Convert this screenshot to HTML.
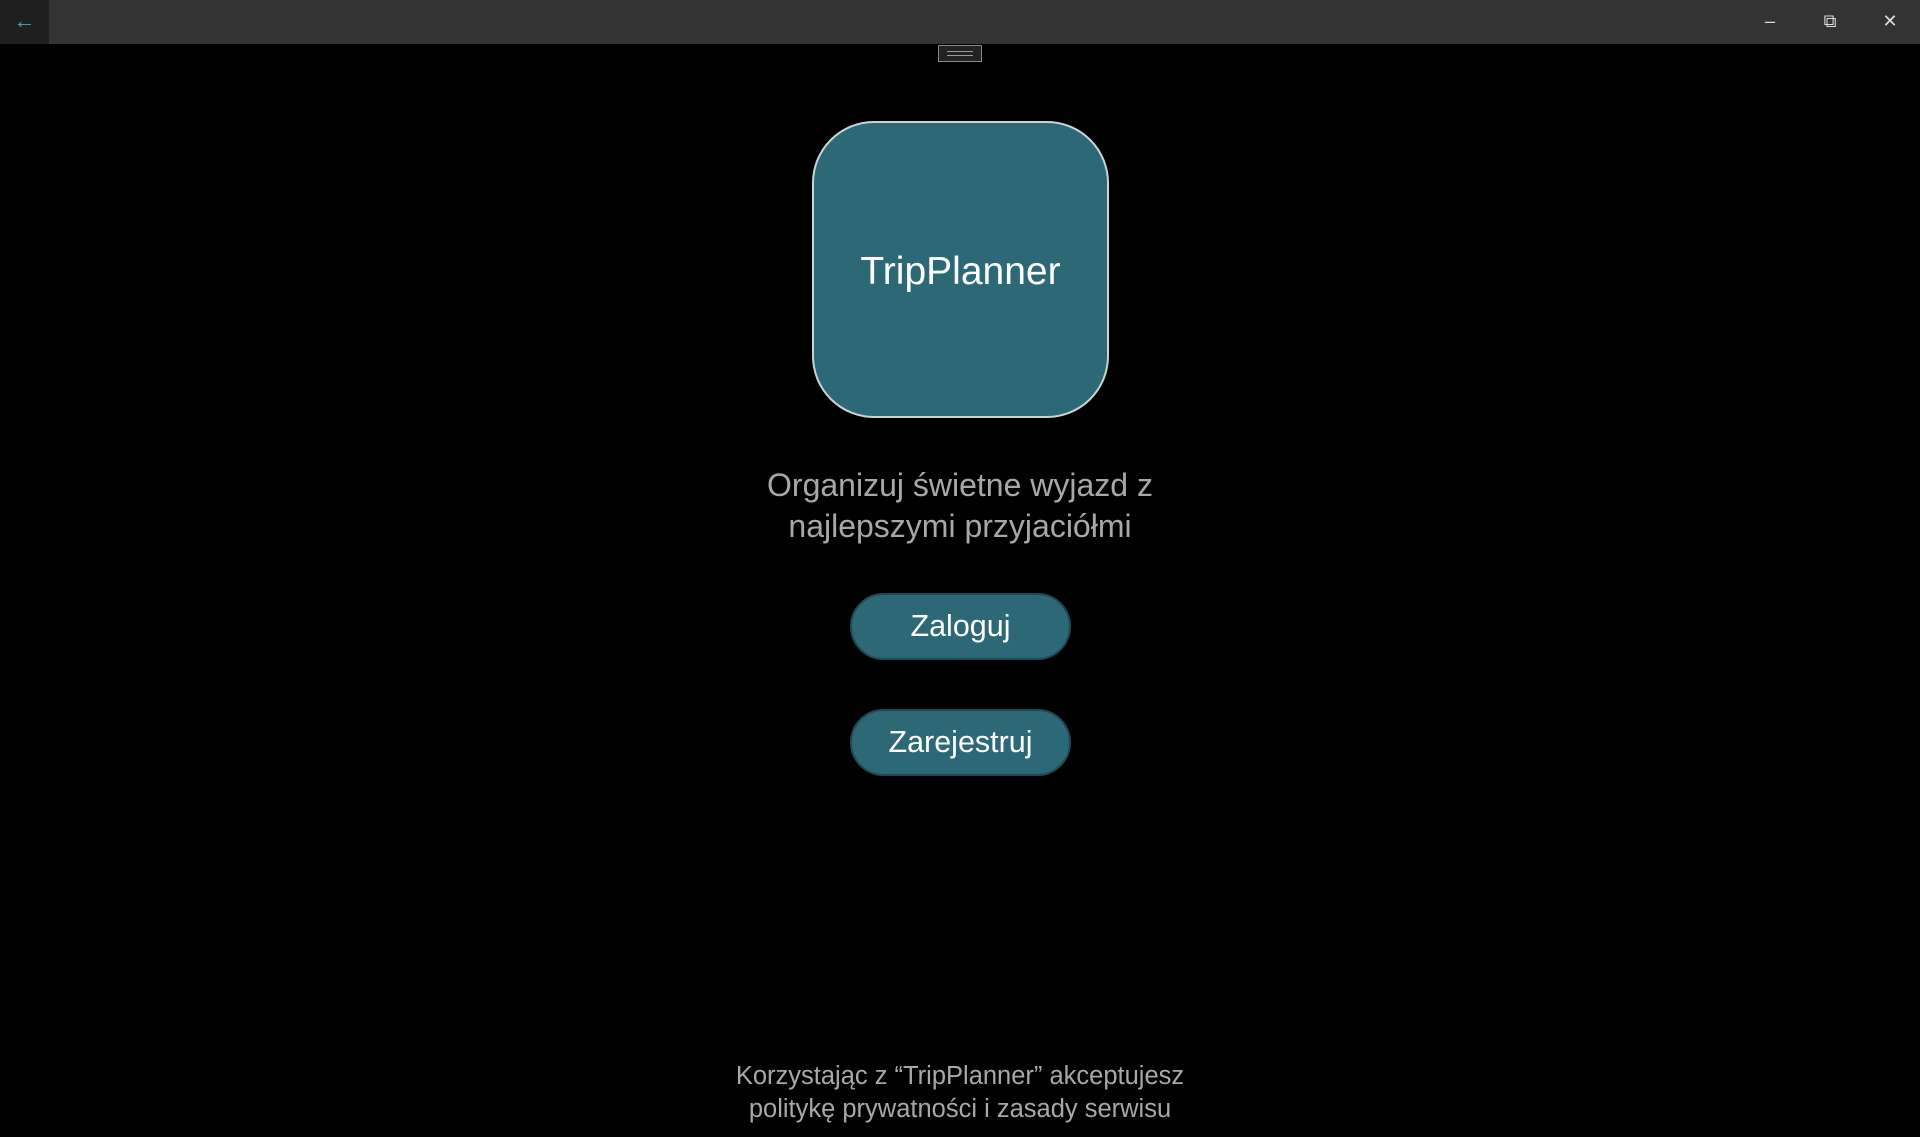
<!DOCTYPE html>
<html><head><meta charset="utf-8"><style>
html,body{margin:0;padding:0;width:1920px;height:1137px;background:#000;overflow:hidden;font-family:"Liberation Sans","DejaVu Sans",sans-serif}
.bar{position:absolute;left:0;top:0;width:1920px;height:44px;background:#333}
.back{position:absolute;left:0;top:0;width:49px;height:44px;background:#1f1f1f;color:#4aa0c8;font-size:22px;text-align:center;line-height:42px}
.ctl{position:absolute;top:0;height:44px;line-height:42px;color:#ddd;font-size:18px;width:40px;text-align:center}
.handle{position:absolute;left:938px;top:45px;width:44px;height:17px;border:1px solid #888;background:#222;box-sizing:border-box}
.handle:after{content:"";position:absolute;left:8px;right:8px;top:5px;height:3px;border-top:1px solid #999;border-bottom:1px solid #999}
.logo{position:absolute;left:812px;top:121px;width:297px;height:297px;box-sizing:border-box;background:#2d6877;border:2px solid #c9d3d6;border-radius:62px;color:#fff;font-size:39px;text-align:center;line-height:297px;font-weight:500}
.tag{position:absolute;left:0;width:1920px;top:465px;text-align:center;color:#a8a8a8;font-size:32px;line-height:41px}
.btn{position:absolute;left:850px;width:221px;height:67px;box-sizing:border-box;background:#2d6877;border:2px solid #1d4a55;border-radius:34px;color:#fff;font-size:30.5px;text-align:center;line-height:63px}
.foot{position:absolute;left:0;width:1920px;top:1060px;text-align:center;color:#a8a8a8;font-size:25.5px;line-height:33px}
</style></head><body>
<div class="bar"></div>
<div class="back">&#8592;</div>
<div class="ctl" style="left:1750px">&#8211;</div>
<div class="ctl" style="left:1810px">&#10697;</div>
<div class="ctl" style="left:1870px">&#10005;</div>
<div class="handle"></div>
<div class="logo">TripPlanner</div>
<div class="tag">Organizuj świetne wyjazd z<br>najlepszymi przyjaciółmi</div>
<div class="btn" style="top:593px">Zaloguj</div>
<div class="btn" style="top:709px">Zarejestruj</div>
<div class="foot">Korzystając z “TripPlanner” akceptujesz<br>politykę prywatności i zasady serwisu</div>
</body></html>
